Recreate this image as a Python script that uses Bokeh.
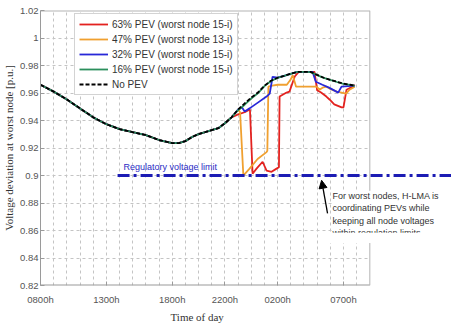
from bokeh.plotting import figure
from bokeh.models import (FixedTicker, Range1d, Label, Arrow, NormalHead, Legend, LegendItem,
                          CustomJSTickFormatter, BoxAnnotation, Title)
from bokeh.embed import file_html
from bokeh.resources import INLINE

# ---------------- data (hours since midnight of day 1; >24 = next day) ----------------
hours_base = [8, 9, 10, 11, 12, 13, 14, 15, 16, 17, 18, 18.5, 19, 19.5, 20, 20.5, 21, 21.5, 22, 22.5,
              23, 23.5, 24, 24.5, 25, 25.5, 26, 26.5, 27, 27.5, 28, 28.5, 29, 29.5, 30, 30.5, 31, 31.5, 31.85]
no_pev = [0.966, 0.961, 0.9553, 0.9488, 0.9423, 0.9373, 0.9337, 0.9315, 0.9294, 0.9258,
          0.9236, 0.9236, 0.925, 0.928, 0.9301, 0.9315, 0.933, 0.9344, 0.938, 0.9423,
          0.948, 0.9524, 0.9567, 0.9603, 0.9653, 0.9689, 0.9711, 0.9725, 0.974, 0.9754,
          0.9754, 0.9754, 0.9732, 0.9711, 0.9696, 0.9682, 0.9668, 0.966, 0.9653]

# all PEV cases coincide with the no-PEV profile until ~22:30
shared_n = 20

pev63_tail_hours = [23.0, 23.5, 23.9, 24.1, 24.4, 24.86, 25.16, 25.54, 25.92, 26.1, 26.15, 26.68, 26.9,
                    27.3, 27.6, 28.0, 28.5, 28.8, 29.0, 29.3, 29.7, 29.94, 30.3, 30.86, 31.0, 31.23,
                    31.69, 31.85]
pev63_tail = [0.9445, 0.946, 0.948, 0.9013, 0.905, 0.91, 0.9035, 0.9027, 0.905, 0.906, 0.9574, 0.9603, 0.961,
              0.972, 0.9754, 0.9754, 0.9754, 0.9754, 0.962, 0.9603, 0.9574, 0.9553, 0.9517, 0.9495, 0.9495, 0.9624,
              0.9646, 0.966]

pev47_tail_hours = [23.0, 23.15, 23.4, 23.87, 24.48, 25.16, 25.22, 25.3, 25.6, 26.0, 26.7, 27.0, 27.15,
                    27.4, 28.0, 28.96, 29.18, 29.41, 29.72, 29.94, 30.5, 30.86, 31.2, 31.46, 31.85]
pev47_tail = [0.948, 0.946, 0.8999, 0.905, 0.912, 0.917, 0.918, 0.9646, 0.9653, 0.966, 0.966, 0.970, 0.973,
              0.9646, 0.9646, 0.9646, 0.9624, 0.9639, 0.9646, 0.9632, 0.961, 0.9603, 0.9596, 0.9624, 0.9646]

pev32_tail_hours = [23.0, 23.3, 23.5, 23.9, 24.5, 25.16, 25.4, 25.62, 26.0, 26.5, 27.0, 27.5, 28.0, 28.65,
                    28.9, 29.4, 29.9, 30.6, 30.85, 31.85]
pev32_tail = [0.948, 0.9495, 0.9466, 0.949, 0.953, 0.9574, 0.9595, 0.9718, 0.9711, 0.9725, 0.974, 0.9754,
              0.9754, 0.9754, 0.9682, 0.966, 0.9639, 0.9603, 0.9646, 0.9653]

pev16_tail_hours = [23.0, 23.5, 24.0, 24.5, 25.0, 25.5, 26.0, 26.5, 27.0, 27.5, 28.0, 28.5, 29.0, 29.5,
                    30.0, 30.5, 31.0, 31.5, 31.85]
pev16_tail = [0.9475, 0.9515, 0.956, 0.9598, 0.965, 0.9687, 0.971, 0.9724, 0.9739, 0.9753, 0.9753, 0.9752,
              0.973, 0.971, 0.9695, 0.968, 0.9666, 0.9659, 0.9652]

series_labels = ["63% PEV (worst node 15-i)", "47% PEV (worst node 13-i)",
                 "32% PEV (worst node 15-i)", "16% PEV (worst node 15-i)", "No PEV"]
series_colors = ["#e3221f", "#f0a030", "#2828d8", "#2b8f5c", "#000000"]

reg_limit = 0.9
x_min, x_max = 8, 33          # extent of the axes box (hours)
y_min, y_max = 0.82, 1.02
x_tick_hours = [8, 13, 18, 22, 26, 31]
x_tick_labels = ["0800h", "1300h", "1800h", "2200h", "0200h", "0700h"]
x_grid_hours = list(range(9, 33))
y_ticks = [0.82, 0.84, 0.86, 0.88, 0.9, 0.92, 0.94, 0.96, 0.98, 1.0, 1.02]

# ---------------- figure ----------------
# the frame runs to the right edge of the canvas so that the annotations can
# extend past the axes box (as in the reference); the box itself is drawn below
p = figure(width=451, height=323, output_backend="svg", toolbar_location=None,
           x_range=Range1d(x_min, 39.2), y_range=Range1d(y_min, y_max),
           min_border_left=40, min_border_right=0, min_border_top=10, min_border_bottom=20)
p.outline_line_color = None
p.background_fill_color = "white"

for ax in (p.xaxis[0], p.yaxis[0]):
    ax.axis_line_color = "#9a9a9a"
    ax.major_tick_line_color = "#9a9a9a"
    ax.major_tick_in = 4
    ax.major_tick_out = 0
    ax.minor_tick_line_color = None
    ax.major_label_text_font = "Liberation Sans"
    ax.major_label_text_font_size = "9.5px"
    ax.major_label_text_color = "#555555"
    ax.axis_label_text_font = "Liberation Serif"
    ax.axis_label_text_font_style = "normal"
    ax.axis_label_text_font_size = "11px"
    ax.axis_label_text_color = "#333333"

p.xaxis.ticker = FixedTicker(ticks=x_tick_hours)
p.xaxis.major_label_overrides = dict(zip(x_tick_hours, x_tick_labels))
p.xaxis.axis_line_color = None
p.xaxis.major_label_standoff = 8

p.add_layout(Title(text="Time of day", align="left", offset=130, standoff=2,
                   text_font="Liberation Serif", text_font_style="normal",
                   text_font_size="11px", text_color="#333333"), "below")

p.yaxis.ticker = FixedTicker(ticks=y_ticks)
p.yaxis.formatter = CustomJSTickFormatter(code="return Number(tick.toFixed(2)).toString();")
p.yaxis.axis_label = "Voltage deviation at worst node [p.u.]"
p.yaxis.major_label_standoff = 2
p.yaxis.axis_label_standoff = 2

p.xgrid.ticker = FixedTicker(ticks=x_grid_hours)
for g in (p.xgrid[0], p.ygrid[0]):
    g.grid_line_color = "#c4c4c4"
    g.grid_line_dash = "3 3"
    g.grid_line_width = 1

# blank out the grid to the right of the axes box
p.add_layout(BoxAnnotation(left=x_max, fill_color="white", fill_alpha=1.0, line_color=None,
                           level="underlay"))

# axes box (top, bottom, right edges)
p.line([x_min, x_max], [y_max, y_max], line_color="#b4b4b4", line_width=2)
p.line([x_min, x_max], [y_min, y_min], line_color="#9a9a9a", line_width=2)
p.line([x_max, x_max], [y_min, y_max], line_color="#b4b4b4", line_width=1)

# ---------------- lines ----------------
shared_h = hours_base[:shared_n]
shared_v = no_pev[:shared_n]
data = [
    (shared_h + pev63_tail_hours, shared_v + pev63_tail),
    (shared_h + pev47_tail_hours, shared_v + pev47_tail),
    (shared_h + pev32_tail_hours, shared_v + pev32_tail),
    (shared_h + pev16_tail_hours, shared_v + pev16_tail),
    (hours_base, no_pev),
]
items = []
for (hx, vy), lab, col in zip(data, series_labels, series_colors):
    if lab == "No PEV":
        r = p.line(hx, vy, line_color=col, line_width=1.8, line_dash="4 2")
    else:
        r = p.line(hx, vy, line_color=col, line_width=1.8)
    items.append(LegendItem(label=lab, renderers=[r]))

legend = Legend(items=items, location=(34, 190))
legend.label_text_font = "Liberation Sans"
legend.label_text_font_size = "10px"
legend.label_text_color = "#333333"
legend.label_height = 12
legend.glyph_height = 12
legend.glyph_width = 29
legend.spacing = 3
legend.padding = 4
legend.label_standoff = 4
legend.border_line_color = "#a8a8a8"
legend.background_fill_alpha = 1
p.add_layout(legend)

# ---------------- regulatory limit & annotations ----------------
p.add_layout(Arrow(x_start=13.85, y_start=reg_limit, x_end=40, y_end=reg_limit, end=None,
                   line_color="#1c1cb4", line_width=3, line_dash="12 4 3 4"))
p.add_layout(Label(x=14.3, y=0.9063, text="Regulatory voltage limit", text_font="Liberation Sans",
                   text_font_size="9px", text_color="#2a2ac4", text_baseline="middle"))

p.add_layout(Label(x=30.17, y=0.889,
                   text="For worst nodes, H-LMA is\ncoordinating PEVs while\nkeeping all node voltages\nwithin regulation limits",
                   text_font="Liberation Sans", text_font_size="9px", text_color="#333333",
                   text_baseline="top", text_line_height=1.25,
                   background_fill_color="white", background_fill_alpha=1.0))
# the text box is cut off part-way through its last line in the reference
p.add_layout(BoxAnnotation(left=29.9, right=40, top=0.8583, bottom=0.851,
                           fill_color="white", fill_alpha=1.0, line_color=None))
p.add_layout(Arrow(x_start=29.79, y_start=0.8725, x_end=29.34, y_end=0.8965,
                   line_color="black", line_width=1.3,
                   end=NormalHead(size=8, fill_color="black", line_color="black")))

open("out.html", "w").write(file_html(p, INLINE))
